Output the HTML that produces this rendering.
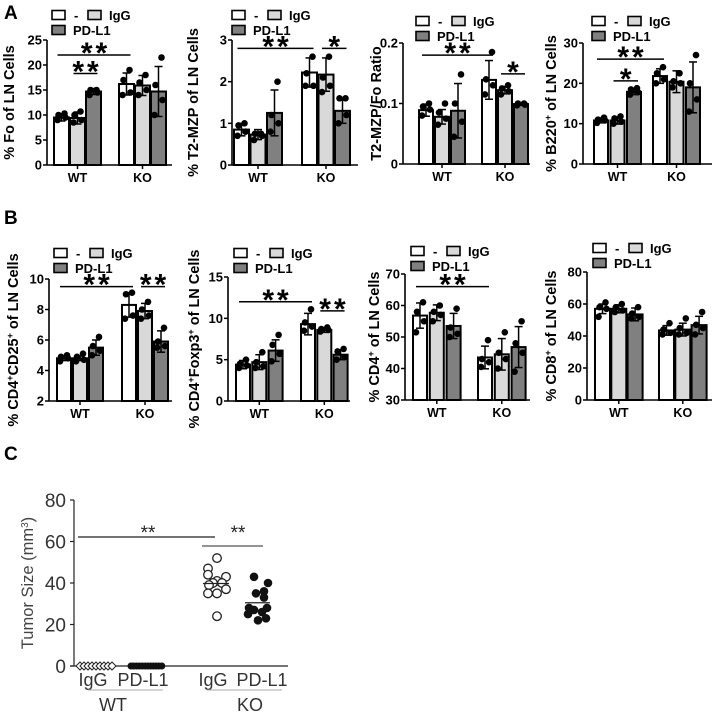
<!DOCTYPE html>
<html><head><meta charset="utf-8"><style>
body{margin:0;background:#fff;width:718px;height:715px;overflow:hidden}
svg{display:block;font-family:"Liberation Sans",Arial,sans-serif}
</style></head><body>
<svg id="fig" width="718" height="715" viewBox="0 0 718 715"></svg>
<script>
const groups=["WT","KO"];
const treatments=["-","IgG","PD-L1"];
const a1Means=[9.5,9.4,14.7,16.2,15.9,14.7];
const a1Err=[0.7,1.2,0.6,2.2,2.0,5.0];
const a1Pts=[[9,9.5,10,10.3],[8.5,9,10,10.7],[14,14.5,15,15],[14,14.5,17,19],[14,15,16.5,18],[10,13,16,21.5]];
const a1Ticks=[0,5,10,15,20,25];
const a2Means=[0.85,0.73,1.25,2.22,2.17,1.3];
const a2Err=[0.15,0.12,0.55,0.35,0.4,0.3];
const a2Pts=[[0.7,0.8,0.95,1],[0.6,0.7,0.75,0.75],[0.8,1,1.2,2],[1.9,1.9,2.2,2.6],[1.75,1.9,2.1,2.6],[1,1.2,1.6,1.6]];
const a2Ticks=[0,1,2,3];
const a3Means=[0.089,0.078,0.088,0.139,0.122,0.099];
const a3Err=[0.01,0.012,0.045,0.032,0.006,0.002];
const a3Pts=[[0.08,0.09,0.095,0.1],[0.065,0.075,0.085,0.1],[0.045,0.07,0.1,0.148],[0.115,0.13,0.14,0.185],[0.115,0.12,0.125,0.13],[0.097,0.098,0.1,0.1]];
const a3Ticks=[0,0.1,0.2];
const a4Means=[10.8,10.8,17.9,21.8,20.4,19];
const a4Err=[0.6,0.9,0.7,1.8,2.7,6.3];
const a4Pts=[[10.2,10.8,11,11.5],[10,10.5,11.3,11.8],[17.2,17.8,18.5,18.8],[20,21,22.5,24],[19,20,20.5,22.5],[13,16,20,27]];
const a4Ticks=[0,10,20,30];
const b1Means=[4.8,4.8,5.5,8.3,7.9,5.9];
const b1Err=[0.15,0.15,0.5,0.8,0.5,0.7];
const b1Pts=[[4.6,4.8,4.9,5],[4.6,4.7,4.9,5.1],[5,5.3,5.6,6.2],[7.4,7.6,9,9.1],[7.4,7.6,8,8.5],[5.5,5.6,5.9,6.8]];
const b1Ticks=[2,4,6,8,10];
const b2Means=[4.4,4.7,6.1,9.3,8.6,5.6];
const b2Err=[0.5,0.9,1.3,1.3,0.3,0.6];
const b2Pts=[[4,4.3,4.5,5],[4,4.2,4.7,5.9],[4.8,5.7,6.8,8],[8.5,9,9.5,11.1],[8.4,8.6,8.7,8.9],[5,5.3,6,6.3]];
const b2Ticks=[0,5,10,15];
const b3Means=[56.8,57.7,53.5,43.5,44.5,46.8];
const b3Err=[4,2.5,4,3.6,5,6.5];
const b3Pts=[[51.5,55,58,61],[55,57,58,60],[50,51,53,59],[40.5,42,43,49],[40,43,45,51.5],[39,45,48,55]];
const b3Ticks=[30,40,50,60,70];
const b4Means=[57,57,53.5,43.5,44,46.8];
const b4Err=[3,2.5,4,3,4,5.5];
const b4Pts=[[52,57,58,61],[55,56,58,60],[51,52,54,58],[41,42,44,48],[41,42,45,51],[41,45,47,55]];
const b4Ticks=[0,20,40,60,80];
const a1Sig=[[22,0,3,"**"],[18.3,1,2,"**"]];
const a2Sig=[[2.8,0,3,"**"],[2.8,4,5,"*"]];
const a3Sig=[[0.18,0,3,"**"],[0.149,4,5,"*"]];
const a4Sig=[[26,0,3,"**"],[20.6,1,2,"*"]];
const b1Sig=[[9.5,0,3,"**"],[9.5,4,5,"**"]];
const b2Sig=[[12,0,3,"**"],[10.9,4,5,"**"]];
const b3Sig=[[66,0,3,"**"]];
const b4Sig=[];
const cCats=["IgG","PD-L1","IgG","PD-L1"];
const cWtIgG=[0,0,0,0,0,0,0,0,0];
const cWtPd=[0,0,0,0,0,0,0,0,0,0,0,0];
const cKoIgG=[52,47,44,43,41,40,40,39,37,35,35,24];
const cKoPd=[43,40,36,35,33,28,28,27,26,25,23,22];
const cTicks=[0,20,40,60,80];

const NS="http://www.w3.org/2000/svg";
const svg=document.getElementById("fig");
function el(tag,attrs,parent,text){const e=document.createElementNS(NS,tag);for(const k in attrs)e.setAttribute(k,attrs[k]);if(text!==undefined)e.textContent=text;(parent||svg).appendChild(e);return e;}
const fills=["#ffffff","#d9d9d9","#808080"];

function barPanel(cfg,means,errs,pts,ticks,sigs){
  const g=el("g",{});
  
  
  const vmin=ticks[0],vmax=ticks[ticks.length-1];
  const y=v=>cfg.bottom-(v-vmin)/(vmax-vmin)*(cfg.bottom-cfg.top);
  const bx=i=>(i<3?cfg.wt:cfg.ko)+(i%3)*cfg.step;
  means.forEach((m,i)=>{
    const r=el("rect",{x:bx(i),y:y(m),width:cfg.w,height:cfg.bottom-y(m),fill:fills[i%3],stroke:"#000","stroke-width":2},g);
    
    
    const cx=bx(i)+cfg.w/2;
    el("line",{x1:cx,x2:cx,y1:y(m-errs[i]),y2:y(m+errs[i]),stroke:"#000","stroke-width":1.5},g);
    el("line",{x1:cx-4,x2:cx+4,y1:y(m+errs[i]),y2:y(m+errs[i]),stroke:"#000","stroke-width":1.5},g);
    el("line",{x1:cx-4,x2:cx+4,y1:y(m-errs[i]),y2:y(m-errs[i]),stroke:"#000","stroke-width":1.5},g);
    pts[i].forEach((p,j)=>{
      const off=[-4,4,-3,3][j];
      const c=el("circle",{cx:cx+off,cy:y(p),r:3.3,fill:"#000"},g);
      
      
    });
  });
  el("line",{x1:cfg.axis,x2:cfg.axis,y1:cfg.top,y2:cfg.bottom,stroke:"#000","stroke-width":1.6},g);
  el("line",{x1:cfg.axis,x2:cfg.end,y1:cfg.bottom,y2:cfg.bottom,stroke:"#000","stroke-width":1.6},g);
  ticks.forEach(t=>{
    el("line",{x1:cfg.axis-4,x2:cfg.axis,y1:y(t),y2:y(t),stroke:"#000","stroke-width":1.5},g);
    const tl=el("text",{x:cfg.axis-5,y:y(t)+4.5,"text-anchor":"end","font-size":13,"font-weight":"bold"},g,String(t));
    
    
  });
  groups.forEach((gn,k)=>{
    const cx=(k===0?cfg.wt:cfg.ko)+cfg.step+cfg.w/2;
    el("line",{x1:cx,x2:cx,y1:cfg.bottom,y2:cfg.bottom+4,stroke:"#000","stroke-width":1.5},g);
    const xl=el("text",{x:cx,y:cfg.bottom+17,"text-anchor":"middle","font-size":12.5,"font-weight":"bold"},g,gn);
    
    
  });
  sigs.forEach(s=>{
    const x1=bx(s[1])+cfg.w/2-4,x2=bx(s[2])+cfg.w/2+4,yy=y(s[0]);
    el("line",{x1:x1,x2:x2,y1:yy,y2:yy,stroke:"#000","stroke-width":1.5},g);
    const st=el("text",{x:(x1+x2)/2+1.5,y:yy+8,"text-anchor":"middle","font-size":30,"font-weight":"bold","letter-spacing":"3"},g,s[3]);
    
    
  });
  const yl=el("text",{transform:`translate(${cfg.lx},${(cfg.top+cfg.bottom)/2}) rotate(-90)`,"text-anchor":"middle","font-size":14.5,"font-weight":"bold"},g);
  
  
  cfg.label.forEach(part=>{el("tspan",part[1]?{"baseline-shift":"super","font-size":9}:{},yl,part[0]);});
  const L=el("g",{},g);
  
  
  const lx=cfg.legx,ly=cfg.legy;
  [[lx,ly,0,"-",lx+22],[lx+36,ly,1,"IgG",lx+57],[lx,ly+15,2,"PD-L1",lx+21]].forEach(e=>{
    el("rect",{x:e[0],y:e[1]-4.5,width:13,height:9,fill:fills[e[2]],stroke:"#000","stroke-width":1.6},L);
    const lt=el("text",{x:e[4],y:e[1]+5,"font-size":13,"font-weight":"bold"},L,e[3]);
    
    
  });
}
barPanel({name:"chart-fo",axis:47,wt:54,ko:119,w:15,step:16,top:40,bottom:165,end:172,lx:14,legx:52,legy:15,label:[["% Fo of LN Cells"]]},a1Means,a1Err,a1Pts,a1Ticks,a1Sig);
barPanel({name:"chart-t2mzp",axis:232,wt:234,ko:302,w:15,step:16.5,top:40,bottom:165,end:358,lx:198,legx:232,legy:15,label:[["% T2-MZP of LN Cells"]]},a2Means,a2Err,a2Pts,a2Ticks,a2Sig);
barPanel({name:"chart-ratio",axis:403,wt:419,ko:482,w:14,step:16,top:43,bottom:164,end:530,lx:381,legx:416,legy:21,label:[["T2-MZP/Fo Ratio"]]},a3Means,a3Err,a3Pts,a3Ticks,a3Sig);
barPanel({name:"chart-b220",axis:583,wt:594,ko:653,w:14,step:16.5,top:43,bottom:164,end:712,lx:556,legx:592,legy:21,label:[["% B220"],["+",1],[" of LN Cells"]]},a4Means,a4Err,a4Pts,a4Ticks,a4Sig);
barPanel({name:"chart-cd25",axis:49,wt:57,ko:122,w:14,step:16,top:279,bottom:401,end:172,lx:18,legx:54,legy:253,label:[["% CD4"],["+",1],["CD25"],["+",1],[" of LN Cells"]]},b1Means,b1Err,b1Pts,b1Ticks,b1Sig);
barPanel({name:"chart-foxp3",axis:228,wt:236,ko:301,w:14,step:16.3,top:277,bottom:401,end:350,lx:199,legx:234,legy:253,label:[["% CD4"],["+",1],["Foxp3"],["+",1],[" of LN Cells"]]},b2Means,b2Err,b2Pts,b2Ticks,b2Sig);
barPanel({name:"chart-cd4",axis:405,wt:413,ko:478,w:14,step:16.8,top:274,bottom:400,end:530,lx:379,legx:411,legy:251,label:[["% CD4"],["+",1],[" of LN Cells"]]},b3Means,b3Err,b3Pts,b3Ticks,b3Sig);
barPanel({name:"chart-cd8",axis:587,wt:595,ko:659,w:15,step:16.3,top:272,bottom:400,end:712,lx:556,legx:593,legy:248,label:[["% CD8"],["+",1],[" of LN Cells"]]},b4Means,b4Err,b4Pts,b4Ticks,b4Sig);

[["A",4,19],["B",4,224],["C",4,460]].forEach(p=>{
  const t=el("text",{x:p[1],y:p[2],"font-size":19,"font-weight":"bold"},svg,p[0]);
  
  
});

(function(){
  const g=el("g",{});
  
  
  const top=500,bottom=666,ax=74;
  const y=v=>bottom-v/80*(bottom-top);
  el("line",{x1:ax,x2:ax,y1:top,y2:bottom,stroke:"#222","stroke-width":1.2},g);
  el("line",{x1:70,x2:288,y1:bottom,y2:bottom,stroke:"#222","stroke-width":1.2},g);
  cTicks.forEach(t=>{
    el("line",{x1:ax-4,x2:ax,y1:y(t),y2:y(t),stroke:"#222","stroke-width":1.2},g);
    const tl=el("text",{x:ax-8,y:y(t)+7,"text-anchor":"end","font-size":19,fill:"#333"},g,String(t));
    
    
  });
  const yl=el("text",{transform:`translate(33,583) rotate(-90)`,"text-anchor":"middle","font-size":16.5,fill:"#444"},g);
  
  
  el("tspan",{},yl,"Tumor Size (mm");el("tspan",{"baseline-shift":"super","font-size":10},yl,"3");el("tspan",{},yl,")");
  cWtIgG.forEach((v,i)=>{const d=el("polygon",{points:"",fill:"#fff",stroke:"#222","stroke-width":1},g);const cx=80+i*4,cy=y(v);d.setAttribute("points",`${cx-4},${cy} ${cx},${cy-4} ${cx+4},${cy} ${cx},${cy+4}`);
    });
  cWtPd.forEach((v,i)=>{const c=el("circle",{cx:131+i*2.8,cy:y(v),r:3.5,fill:"#111"},g);
    });
  const offs=[0,-9,-9,9,0,-4,5,-8,9,-9,0,0];
  const offs2=[-4,10,6,-2,6,-9,9,-4,4,-10,8,0];
  const mean=a=>a.reduce((s,v)=>s+v,0)/a.length;
  cKoIgG.forEach((v,i)=>{const c=el("circle",{cx:217+offs[i],cy:y(v),r:4.3,fill:"#fff",stroke:"#222","stroke-width":1.3},g);
    });
  cKoPd.forEach((v,i)=>{const c=el("circle",{cx:258+offs2[i],cy:y(v),r:4.3,fill:"#111"},g);
    });
  el("line",{x1:203,x2:229,y1:y(mean(cKoIgG)),y2:y(mean(cKoIgG)),stroke:"#222","stroke-width":1.3},g);
  el("line",{x1:245,x2:270,y1:y(mean(cKoPd)),y2:y(mean(cKoPd)),stroke:"#222","stroke-width":1.3},g);
  el("line",{x1:78,x2:215,y1:537,y2:537,stroke:"#222","stroke-width":1.2},g);
  el("line",{x1:202,x2:263,y1:546,y2:546,stroke:"#555","stroke-width":1.2},g);
  [[148,541],[238,541]].forEach(p=>{const t=el("text",{x:p[0],y:p[1]-2,"text-anchor":"middle","font-size":19,fill:"#222"},g,"**");
    });
  [[93,cCats[0]],[143,cCats[1]],[213,cCats[2]],[262,cCats[3]]].forEach(p=>{const t=el("text",{x:p[0],y:686,"text-anchor":"middle","font-size":18,fill:"#333"},g,p[1]);
    });
  el("line",{x1:88,x2:163,y1:690,y2:690,stroke:"#aaa","stroke-width":1},g);
  el("line",{x1:207,x2:282,y1:690,y2:690,stroke:"#aaa","stroke-width":1},g);
  [[113,"WT"],[250,"KO"]].forEach(p=>{const t=el("text",{x:p[0],y:711,"text-anchor":"middle","font-size":18,fill:"#333"},g,p[1]);
    });
})();
</script>
</body></html>
